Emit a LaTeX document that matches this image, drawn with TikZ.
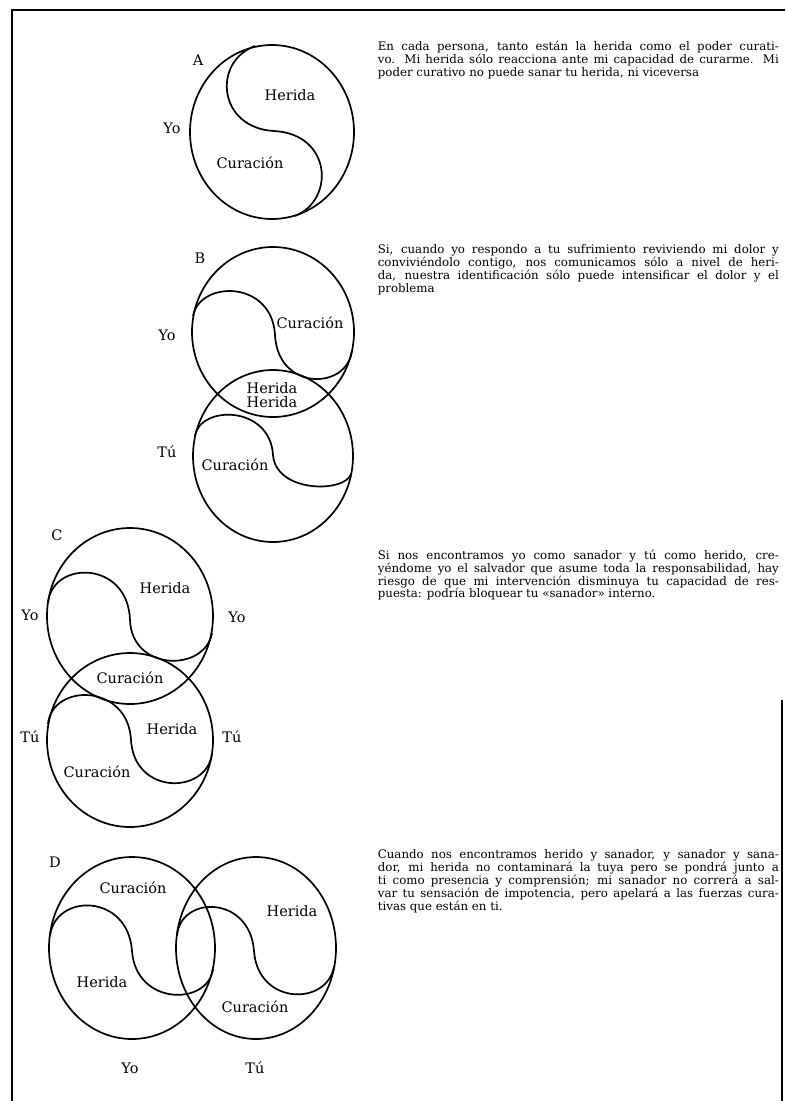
\documentclass[tikz,border=0pt]{standalone}
\usepackage{fontspec}
\setmainfont{DejaVu Serif}

\begin{document}
\begin{tikzpicture}[x=1pt,y=-1pt,line width=1.7pt,
    etiqueta/.style={font=\fontsize{14.5}{16}\selectfont,inner sep=0pt},
    texto/.style={font=\fontsize{11.8}{12.9}\selectfont,text width=401pt,align=justify,anchor=north west,inner sep=0pt}]
\useasboundingbox (0,0) rectangle (785,1101);
% marco
\draw[line width=2.5pt] (12,1101)--(12,10)--(785,10);
\draw[line width=2pt] (782,700)--(782,1101);

% A
\draw (272,132) ellipse (82pt and 87pt);
\draw (255,46) .. controls (212,62) and (218,128) .. (274,131) .. controls (332,134) and (335,200) .. (295,216);
\node[etiqueta] (letraA) at (198,60) {A};
\node[etiqueta] (yoA) at (172,128) {Yo};
\node[etiqueta] (heridaA) at (290,95) {Herida};
\node[etiqueta] (curacionA) at (250,163) {Curación};
\node[texto] (textoA) at (377,40) {En cada persona, tanto están la herida como el poder curati-\linebreak vo. Mi herida sólo reacciona ante mi capacidad de curarme. Mi\linebreak poder curativo no puede sanar tu herida, ni viceversa};

% B
\draw (273,332) ellipse (81pt and 85pt);
\draw (273,456) ellipse (80pt and 86pt);
\draw (193,316) .. controls (200,280) and (272,280) .. (275,335) .. controls (278,392) and (348,390) .. (352,350);
\draw (195,436) .. controls (200,405) and (270,405) .. (273,455) .. controls (276,493) and (345,493) .. (351,474);
\node[etiqueta] (letraB) at (200,258) {B};
\node[etiqueta] (yoB) at (167,335) {Yo};
\node[etiqueta] (tuB) at (167,452) {Tú};
\node[etiqueta] (curacionB1) at (310,323) {Curación};
\node[etiqueta] (heridaB1) at (272,388) {Herida};
\node[etiqueta] (heridaB2) at (272,402) {Herida};
\node[etiqueta] (curacionB2) at (235,465) {Curación};
\node[texto] (textoB) at (377,244) {Si, cuando yo respondo a tu sufrimiento reviviendo mi dolor y\linebreak conviviéndolo contigo, nos comunicamos sólo a nivel de heri-\linebreak da, nuestra identificación sólo puede intensificar el dolor y el\linebreak problema};

% C
\draw (130,616) ellipse (83pt and 88pt);
\draw (130,740) ellipse (83pt and 87pt);
\draw (48,603) .. controls (52,560) and (128,560) .. (130,620) .. controls (132,672) and (205,672) .. (212,633);
\draw (48,724) .. controls (52,683) and (128,683) .. (131,740) .. controls (134,795) and (206,795) .. (212,754);
\node[etiqueta] (letraC) at (57,535) {C};
\node[etiqueta] (yoC1) at (30,615) {Yo};
\node[etiqueta] (yoC2) at (237,617) {Yo};
\node[etiqueta] (heridaC1) at (165,588) {Herida};
\node[etiqueta] (curacionC1) at (130,678) {Curación};
\node[etiqueta] (tuC1) at (30,737) {Tú};
\node[etiqueta] (tuC2) at (232,737) {Tú};
\node[etiqueta] (heridaC2) at (172,729) {Herida};
\node[etiqueta] (curacionC2) at (97,772) {Curación};
\node[texto] (textoC) at (377,549) {Si nos encontramos yo como sanador y tú como herido, cre-\linebreak yéndome yo el salvador que asume toda la responsabilidad, hay\linebreak riesgo de que mi intervención disminuya tu capacidad de res-\linebreak puesta: podría bloquear tu «sanador» interno.};

% D
\draw (132,948) ellipse (83pt and 91pt);
\draw (256,948) ellipse (80pt and 91pt);
\draw (50,936) .. controls (55,893) and (128,893) .. (132,951) .. controls (136,1006) and (208,1006) .. (213,969);
\draw (177,936) .. controls (180,895) and (250,895) .. (254,951) .. controls (258,1006) and (328,1006) .. (334,966);
\node[etiqueta] (letraD) at (55,862) {D};
\node[etiqueta] (curacionD1) at (133,888) {Curación};
\node[etiqueta] (heridaD1) at (102,982) {Herida};
\node[etiqueta] (heridaD2) at (292,911) {Herida};
\node[etiqueta] (curacionD2) at (255,1007) {Curación};
\node[etiqueta] (yoD) at (130,1068) {Yo};
\node[etiqueta] (tuD) at (255,1068) {Tú};
\node[texto] (textoD) at (377,849) {Cuando nos encontramos herido y sanador, y sanador y sana-\linebreak dor, mi herida no contaminará la tuya pero se pondrá junto a\linebreak ti como presencia y comprensión; mi sanador no correrá a sal-\linebreak var tu sensación de impotencia, pero apelará a las fuerzas cura-\linebreak tivas que están en ti.};
\end{tikzpicture}
\end{document}
